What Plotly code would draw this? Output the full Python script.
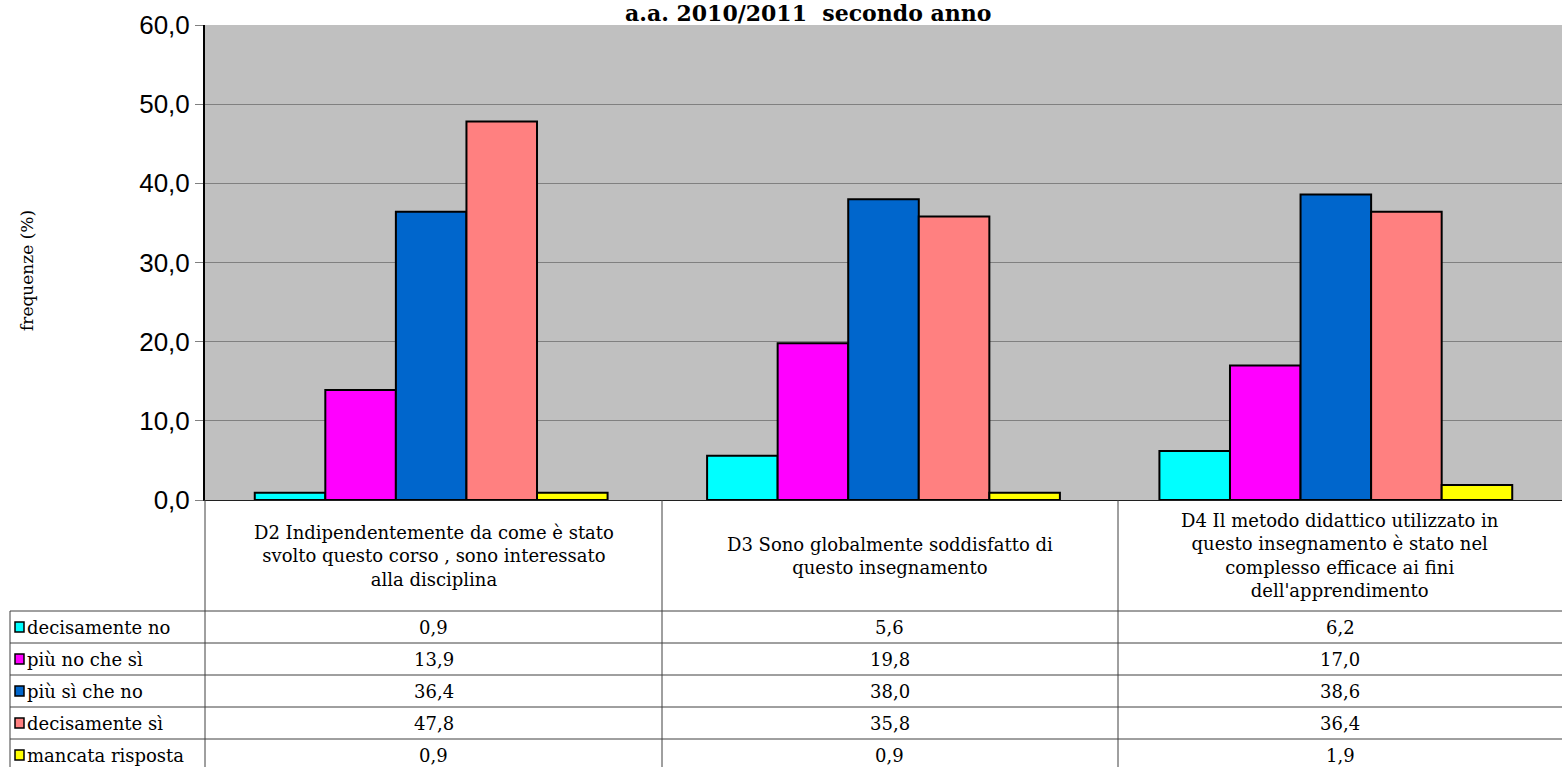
import plotly.graph_objects as go

W, H = 1562, 767

questions = [
    "D2 Indipendentemente da come è stato<br>svolto questo corso , sono interessato<br>alla disciplina",
    "D3 Sono globalmente soddisfatto di<br>questo insegnamento",
    "D4 Il metodo didattico utilizzato in<br>questo insegnamento è stato nel<br>complesso efficace ai fini<br>dell'apprendimento",
]
series_names = ["decisamente no", "più no che sì", "più sì che no", "decisamente sì", "mancata risposta"]
decisamente_no = [0.9, 5.6, 6.2]
piu_no_che_si = [13.9, 19.8, 17.0]
piu_si_che_no = [36.4, 38.0, 38.6]
decisamente_si = [47.8, 35.8, 36.4]
mancata_risposta = [0.9, 0.9, 1.9]
series_values = [decisamente_no, piu_no_che_si, piu_si_che_no, decisamente_si, mancata_risposta]
colors = ["#00FFFF", "#FF00FF", "#0066CC", "#FF8080", "#FFFF00"]
title_text = "a.a. 2010/2011  secondo anno"
y_title = "frequenze (%)"

# layout geometry (pixels)
PL, PR, PT, PB = 205, 1562, 25, 500
col_edges = [205, 662, 1118, 1562]
row_top = 611
row_h = 32
table_left = 10

def px(x):
    return x / W

def py(y):
    return 1 - y / H

fig = go.Figure()
cats = ["D2", "D3", "D4"]
for name, vals, c in zip(series_names, series_values, colors):
    fig.add_trace(go.Bar(
        x=cats, y=vals, name=name,
        marker=dict(color=c, line=dict(color="black", width=2)),
    ))

shapes = []
annotations = []

serif = "DejaVu Serif"
tsize = 18

# header lines of table
for xe in col_edges[:3]:
    shapes.append(dict(type="line", xref="paper", yref="paper",
                       x0=px(xe), x1=px(xe), y0=py(PB), y1=py(H + 5),
                       line=dict(color="#404040", width=1)))
shapes.append(dict(type="line", xref="paper", yref="paper",
                   x0=px(table_left), x1=px(table_left), y0=py(row_top), y1=py(H + 5),
                   line=dict(color="#404040", width=1)))
for i in range(len(series_names)):
    yl = row_top + i * row_h
    shapes.append(dict(type="line", xref="paper", yref="paper",
                       x0=px(table_left), x1=1, y0=py(yl), y1=py(yl),
                       line=dict(color="#404040", width=1)))

# header text
for j, q in enumerate(questions):
    cx = (col_edges[j] + col_edges[j + 1]) / 2
    annotations.append(dict(xref="paper", yref="paper", x=px(cx), y=py((PB + row_top) / 2),
                            text=q, showarrow=False, xanchor="center", yanchor="middle",
                            align="center", font=dict(family=serif, size=tsize, color="black")))

# rows
for i, (name, vals, c) in enumerate(zip(series_names, series_values, colors)):
    yc = row_top + i * row_h + row_h / 2
    shapes.append(dict(type="rect", xref="paper", yref="paper",
                       x0=px(15), x1=px(24), y0=py(yc + 5), y1=py(yc - 5),
                       fillcolor=c, line=dict(color="black", width=1.5)))
    annotations.append(dict(xref="paper", yref="paper", x=px(25), y=py(yc),
                            text=name, showarrow=False, xanchor="left", yanchor="middle",
                            font=dict(family=serif, size=tsize, color="black")))
    for j, v in enumerate(vals):
        cx = (col_edges[j] + col_edges[j + 1]) / 2
        annotations.append(dict(xref="paper", yref="paper", x=px(cx), y=py(yc),
                                text=f"{v:.1f}".replace(".", ","), showarrow=False,
                                xanchor="center", yanchor="middle",
                                font=dict(family=serif, size=tsize, color="black")))

# title
annotations.append(dict(xref="paper", yref="paper", x=px(808), y=py(27),
                        text="<b>" + title_text + "</b>", showarrow=False,
                        xanchor="center", yanchor="bottom", borderpad=0,
                        font=dict(family=serif, size=22, color="black")))
# y title
annotations.append(dict(xref="paper", yref="paper", x=px(27), y=py(271),
                        text=y_title, showarrow=False, textangle=-90,
                        xanchor="center", yanchor="middle",
                        font=dict(family=serif, size=17, color="black")))

fig.update_layout(
    width=W, height=H,
    margin=dict(l=0, r=0, t=0, b=0, autoexpand=False),
    paper_bgcolor="white",
    plot_bgcolor="#C0C0C0",
    barmode="group", bargap=0.22, bargroupgap=0,
    showlegend=False,
    separators=",.",
    shapes=shapes,
    annotations=annotations,
    xaxis=dict(domain=[px(PL), px(PR)], range=[-0.5, 2.5], showticklabels=False,
               automargin=False,
               showline=True, linecolor="#202020", linewidth=1, ticks="", showgrid=False),
    yaxis=dict(domain=[py(PB), py(PT)], range=[0, 60], dtick=10, tickformat=".1f",
               automargin=False,
               showgrid=True, gridcolor="#808080", gridwidth=1, zeroline=False,
               showline=True, linecolor="black", linewidth=2, ticks="outside",
               ticklen=8, tickcolor="#808080",
               tickfont=dict(family="Liberation Sans", size=26, color="black")),
)

fig.write_html("out.html", config={"displayModeBar": False},
               post_script="document.body.style.margin='0';document.body.style.overflow='hidden';")
